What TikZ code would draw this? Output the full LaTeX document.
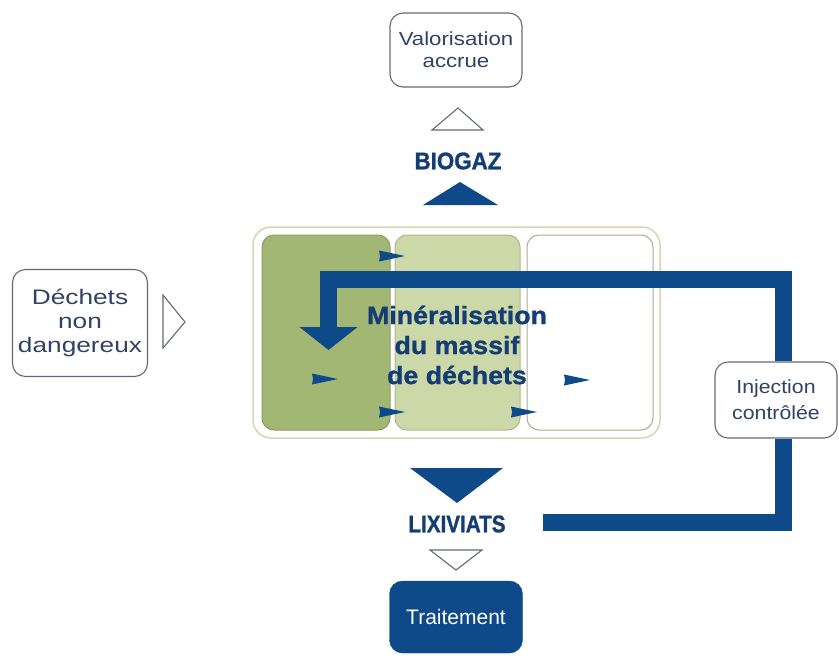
\documentclass[tikz,border=0pt]{standalone}
\usepackage{fontspec}
\setmainfont{Liberation Sans}
\newfontfamily\labfont[FakeStretch=1.17]{Liberation Sans}
\newfontfamily\dechfont[FakeStretch=1.25]{Liberation Sans}
\newfontfamily\injfont[FakeStretch=1.12]{Liberation Sans}
\newfontfamily\bioFont[FakeStretch=0.93,FakeBold=1.2]{Liberation Sans}
\newfontfamily\lixFont[FakeStretch=0.86,FakeBold=1.2]{Liberation Sans}
\newfontfamily\massFont[FakeStretch=1.07,FakeBold=1.0]{Liberation Sans}
\newfontfamily\midfont{Liberation Sans}
\usetikzlibrary{arrows.meta}
\definecolor{navy}{RGB}{14,74,138}
\definecolor{txtnavy}{RGB}{20,62,115}
\definecolor{labtxt}{RGB}{50,66,100}
\definecolor{boxline}{RGB}{100,106,116}
\definecolor{greenA}{RGB}{163,183,116}
\definecolor{greenB}{RGB}{205,216,168}
\definecolor{framec}{RGB}{214,214,180}
\begin{document}
\begin{tikzpicture}[x=1pt,y=-1pt,
  labelbox/.style={draw=boxline,line width=1.1pt,rounded corners=13pt,fill=white,
    text=labtxt,align=center,inner sep=0pt,font=\labfont\fontsize{19}{22}\selectfont},
  titletext/.style={text=txtnavy,inner sep=0pt},
  hollowtri/.style={draw=boxline,line width=1.1pt,fill=white,line join=miter},
  solidtri/.style={fill=navy},
  recirc/.style={draw=navy,line width=17pt,line join=miter},
  cell/.style={rounded corners=12pt,line width=1pt},
  dart/.pic={\fill[navy] (13,0) -- (-13,-5.5) -- (-12,0) -- (-13,5.5) -- cycle;}
]
\useasboundingbox (0,0) rectangle (839,657);
\fill[white] (0,0) rectangle (839,657);

% central massif
\draw[cell,draw=framec,line width=1.5pt,rounded corners=18pt] (253,227) rectangle (660,438);
\draw[cell,fill=greenA,draw=greenA!85!black] (262,235) rectangle (390,430);
\draw[cell,fill=greenB,draw=greenB!85!black] (395,235) rectangle (520,430);
\draw[cell,fill=white,draw=framec!80!black] (527,235) rectangle (653,430);

% small flow arrows
\pic at (392,256) {dart};
\pic at (325,379) {dart};
\pic at (392,412) {dart};
\pic at (524,412) {dart};
\pic at (577,380) {dart};

% label boxes
\node[labelbox,minimum width=132pt,minimum height=74pt] (valo) at (456,50) {Valorisation\\accrue};
\node[labelbox,minimum width=135pt,minimum height=107pt,font=\dechfont\fontsize{21}{24}\selectfont] (dech) at (80,323) {Déchets\\non\\dangereux};
\node[labelbox,minimum width=122pt,minimum height=76pt,font=\injfont\fontsize{19}{26}\selectfont] (inj) at (776,400) {Injection\\contrôlée};
\node[draw=navy,fill=navy,rounded corners=13pt,minimum width=133pt,minimum height=72pt,text=white,inner sep=0pt,
  font=\midfont\fontsize{21}{24}\selectfont] (trait) at (456,617) {Traitement};

% titles
\node[titletext,font=\bioFont\bfseries\fontsize{24}{26}\selectfont] (biogaz) at (458,161) {BIOGAZ};
\node[titletext,font=\lixFont\bfseries\fontsize{24}{26}\selectfont] (lix) at (457,524) {LIXIVIATS};
\node[text=txtnavy,align=center,inner sep=0pt,font=\massFont\bfseries\fontsize{25}{30}\selectfont] (mass) at (457,345) {Minéralisation\\du massif\\de déchets};

% triangles
\draw[hollowtri] (432,130) -- (458,108) -- (483,130) -- cycle;
\fill[solidtri] (423,205) -- (460,182) -- (498,205) -- cycle;
\draw[hollowtri] (163,295) -- (185,322) -- (163,348) -- cycle;
\fill[solidtri] (410,468) -- (457,503) -- (503,468) -- cycle;
\draw[hollowtri] (430,550) -- (456,570) -- (482,550) -- cycle;

% recirculation loop
\coordinate (barx) at (783.5,0);
\coordinate (lixend) at (543,522);
\coordinate (topleft) at (328.5,279);
\coordinate (tip) at (328.5,350);
\draw[recirc] (lixend) -| (inj.south -| barx);
\draw[recirc,-{Triangle[width=57pt,length=23pt]}] (inj.north -| barx) |- (topleft) -- (tip);
\end{tikzpicture}
\end{document}
